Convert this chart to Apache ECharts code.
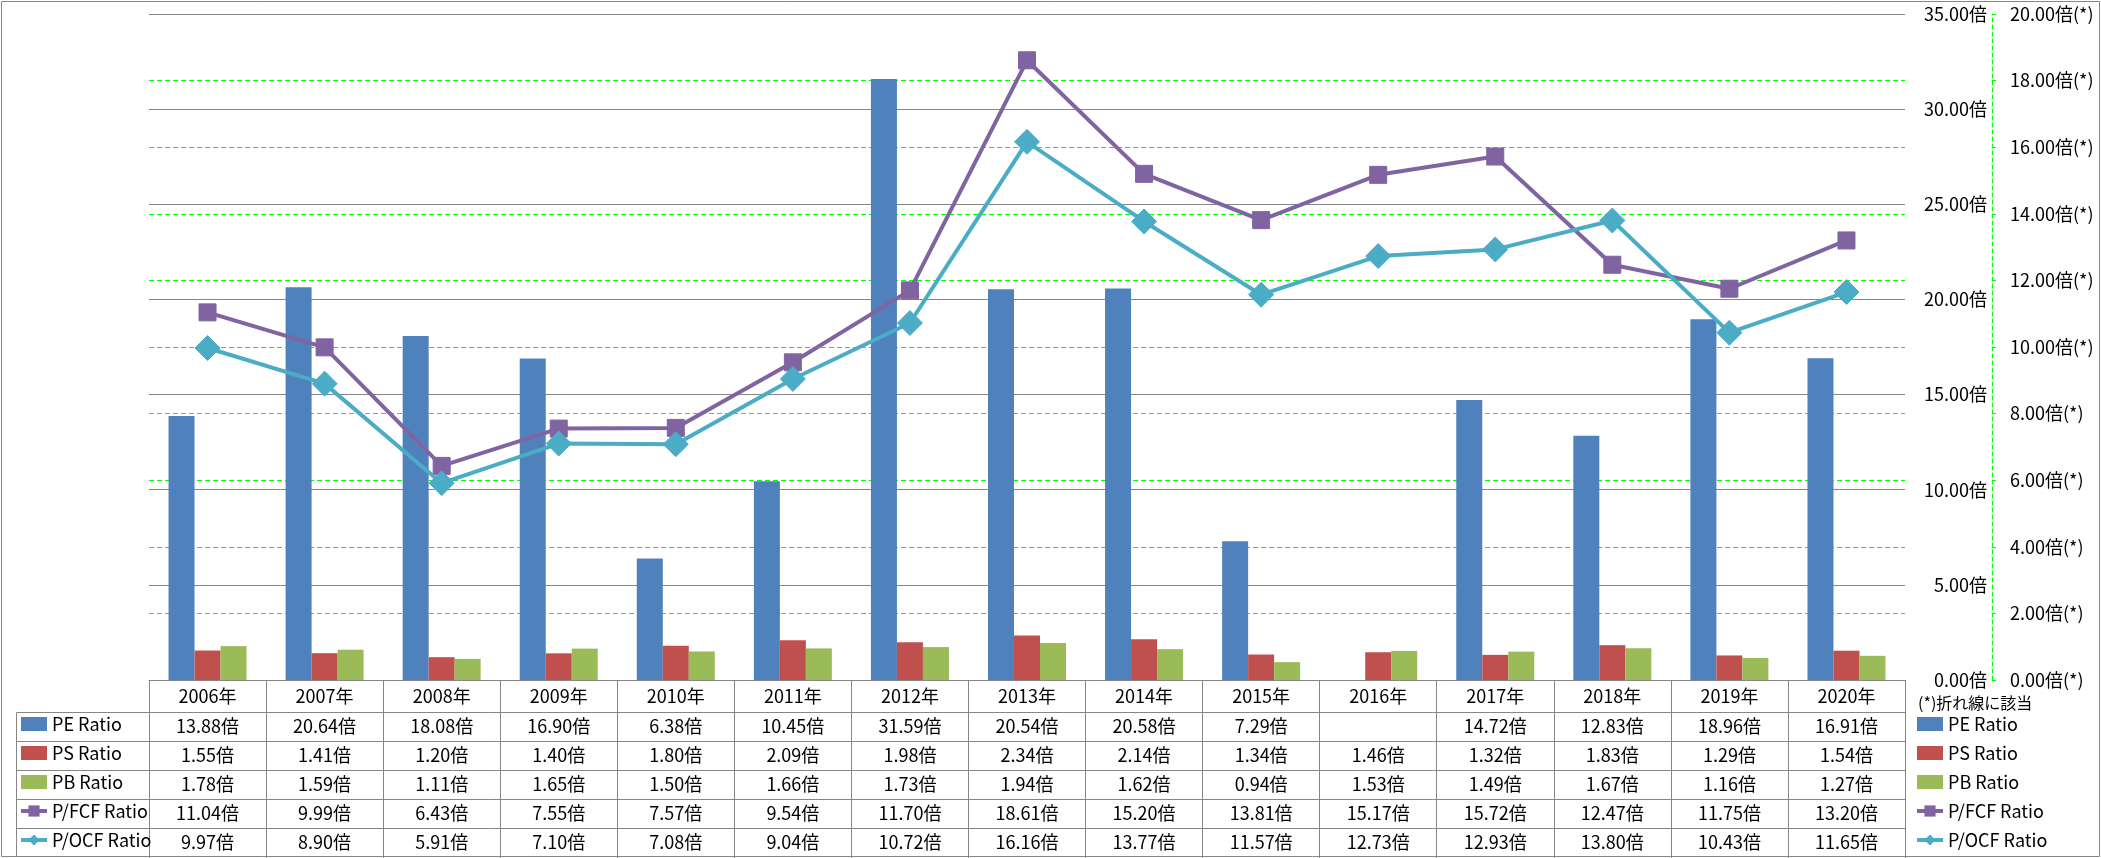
<!DOCTYPE html>
<html><head><meta charset="utf-8">
<script src="https://cdn.jsdelivr.net/npm/echarts@6/dist/echarts.min.js"></script>
<style>html,body{margin:0;padding:0;background:#fff}#c{width:2101px;height:858px}</style>
</head><body><div id="c"></div>
<script>
const categories = ['2006年','2007年','2008年','2009年','2010年','2011年','2012年','2013年','2014年','2015年','2016年','2017年','2018年','2019年','2020年'];
const peRatio   = [13.88, 20.64, 18.08, 16.90, 6.38, 10.45, 31.59, 20.54, 20.58, 7.29, null, 14.72, 12.83, 18.96, 16.91];
const psRatio   = [1.55, 1.41, 1.20, 1.40, 1.80, 2.09, 1.98, 2.34, 2.14, 1.34, 1.46, 1.32, 1.83, 1.29, 1.54];
const pbRatio   = [1.78, 1.59, 1.11, 1.65, 1.50, 1.66, 1.73, 1.94, 1.62, 0.94, 1.53, 1.49, 1.67, 1.16, 1.27];
const pfcfRatio = [11.04, 9.99, 6.43, 7.55, 7.57, 9.54, 11.70, 18.61, 15.20, 13.81, 15.17, 15.72, 12.47, 11.75, 13.20];
const pocfRatio = [9.97, 8.90, 5.91, 7.10, 7.08, 9.04, 10.72, 16.16, 13.77, 11.57, 12.73, 12.93, 13.80, 10.43, 11.65];
const seriesNames = ['PE Ratio','PS Ratio','PB Ratio','P/FCF Ratio','P/OCF Ratio'];
const noteText = '(*)折れ線に該当';

const FONT = '"Noto Sans CJK JP", "Noto Sans", sans-serif';
const FS = 18;
const GRAY = '#868686';
const GREEN = '#00FF00';
const COLORS = ['#4F81BD','#C0504D','#9BBB59','#8064A2','#4BACC6'];

const chart = echarts.init(document.getElementById('c'), null, {renderer:'canvas'});

function legendData() {
  return seriesNames.map((n, i) => i < 3 ? {name:n, icon:'rect'} : {name:n, lineStyle:{width:4}});
}
const legendCommon = {
  type:'plain', orient:'vertical', top:714, height:200, itemWidth:26, itemHeight:14, itemGap:9,
  selectedMode:false, padding:0,
  textStyle:{fontFamily:FONT, fontSize:FS, lineHeight:20, color:'#000'}
};

const option = {
  animation:false,
  textStyle:{fontFamily:FONT},
  grid:{left:149, right:196, top:14, bottom:178, containLabel:false},
  legend:[
    Object.assign({left:19, data:legendData()}, legendCommon),
    Object.assign({left:1915, data:legendData()}, legendCommon)
  ],
  xAxis:{
    type:'category', data:categories, boundaryGap:true,
    axisLine:{show:true, lineStyle:{color:GRAY, width:1}},
    axisTick:{show:true, length:178, interval:0, lineStyle:{color:GRAY, width:1}},
    axisLabel:{interval:0, margin:16, verticalAlign:'middle', fontSize:FS, color:'#000', fontFamily:FONT},
    splitLine:{show:false}
  },
  yAxis:[
    {
      type:'value', position:'right', min:0, max:35, interval:5, z:2,
      axisLine:{show:false}, axisTick:{show:false},
      axisLabel:{margin:82, align:'right', fontSize:FS, color:'#000', fontFamily:FONT,
        formatter:v => v.toFixed(2) + '倍'},
      splitLine:{show:true, lineStyle:{color:GRAY, width:1, type:'solid'}}
    },
    {
      type:'value', position:'right', offset:87, min:0, max:20, interval:2, z:1,
      axisLine:{show:true, lineStyle:{color:GREEN, width:1, type:[4,3]}},
      axisTick:{show:true, length:4, lineStyle:{color:GREEN, width:1}},
      axisLabel:{margin:18, align:'left', fontSize:FS, color:'#000', fontFamily:FONT,
        formatter:v => v.toFixed(2) + '倍(*)'},
      splitLine:{show:true, lineStyle:{color:GREEN, width:1, type:[5,3]}}
    }
  ],
  series:[
    {name:seriesNames[0], type:'bar', data:peRatio, barWidth:26, barGap:'0%', itemStyle:{color:COLORS[0]}, yAxisIndex:0},
    {name:seriesNames[1], type:'bar', data:psRatio, barWidth:26, barGap:'0%', itemStyle:{color:COLORS[1]}, yAxisIndex:0},
    {name:seriesNames[2], type:'bar', data:pbRatio, barWidth:26, barGap:'0%', itemStyle:{color:COLORS[2]}, yAxisIndex:0},
    {name:seriesNames[3], type:'line', data:pfcfRatio, yAxisIndex:1, z:5,
      symbol:'rect', symbolSize:17, lineStyle:{color:COLORS[3], width:4},
      itemStyle:{color:COLORS[3], borderColor:COLORS[3]}},
    {name:seriesNames[4], type:'line', data:pocfRatio, yAxisIndex:1, z:6,
      symbol:'diamond', symbolSize:25, lineStyle:{color:COLORS[4], width:4},
      itemStyle:{color:COLORS[4], borderColor:COLORS[4]}}
  ]
};
chart.setOption(option);

// data table beneath the plot
const rows = [peRatio, psRatio, pbRatio, pfcfRatio, pocfRatio];
const rowLines = [712, 741, 770, 799, 828];
const rowCenters = [726.5, 755.5, 784.5, 813.5, 842.5];
const g = [];
g.push({type:'rect', shape:{x:1.5, y:1.5, width:2098, height:855}, style:{fill:null, stroke:GRAY, lineWidth:1}, silent:true});
const rightX = 1905.5;
rowLines.forEach(y => {
  g.push({type:'line', shape:{x1:16.5, y1:y+0.5, x2:rightX, y2:y+0.5}, style:{stroke:GRAY, lineWidth:1}, silent:true});
});
g.push({type:'line', shape:{x1:16.5, y1:712.5, x2:16.5, y2:857}, style:{stroke:GRAY, lineWidth:1}, silent:true});
rows.forEach((vals, r) => {
  vals.forEach((v, i) => {
    if (v === null || v === undefined) return;
    const x = chart.convertToPixel({xAxisIndex:0}, i);
    g.push({type:'text', x:x, y:rowCenters[r], silent:true,
      style:{text:v.toFixed(2) + '倍', fontSize:FS, fontFamily:FONT, fill:'#000', align:'center', verticalAlign:'middle'}});
  });
});
g.push({type:'text', x:1918, y:703, silent:true,
  style:{text:noteText, fontSize:16, fontFamily:FONT, fill:'#000', align:'left', verticalAlign:'middle'}});
chart.setOption({graphic:g});
</script>
</body></html>
